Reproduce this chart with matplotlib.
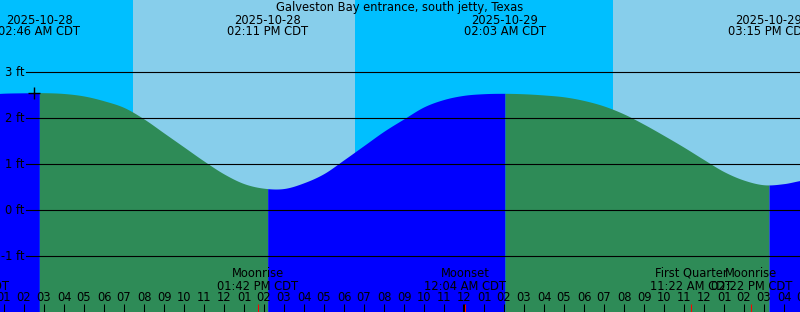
import numpy as np
import matplotlib
matplotlib.use("Agg")
import matplotlib.pyplot as plt
from matplotlib.transforms import blended_transform_factory

# ---------------- data (time in hours from 2025-10-28 00:00 CDT) ----------------
title = "Galveston Bay entrance, south jetty, Texas"

curve_hours = list(range(0, 42))
curve_levels = [2.52, 2.546, 2.554, 2.557, 2.539, 2.485, 2.38, 2.235, 1.985, 1.68,
                1.375, 1.07, 0.79, 0.58, 0.48, 0.474, 0.60, 0.80, 1.10, 1.41,
                1.72, 1.99, 2.25, 2.41, 2.50, 2.535, 2.543, 2.533, 2.507, 2.467,
                2.387, 2.267, 2.093, 1.87, 1.625, 1.37, 1.10, 0.84, 0.655, 0.555,
                0.58, 0.659]

tide_times = [2.767, 14.183, 26.05, 39.25]
tide_dates = ["2025-10-28", "2025-10-28", "2025-10-29", "2025-10-29"]
tide_clock = ["02:46 AM CDT", "02:11 PM CDT", "02:03 AM CDT", "03:15 PM CDT"]

day_starts = [7.45, 31.45]
day_ends = [18.55, 45.0]

moon_times = [-0.767, 13.7, 24.067, 35.367, 38.367]
moon_names = ["Moonset", "Moonrise", "Moonset", "First Quarter", "Moonrise"]
moon_clock = ["11:14 PM CDT", "01:42 PM CDT", "12:04 AM CDT", "11:22 AM CDT", "02:22 PM CDT"]

grid_levels = [-1, 0, 1, 2, 3]
grid_labels = ["-1 ft", "0 ft", "1 ft", "2 ft", "3 ft"]

hour_ticks = list(range(0, 42))
hour_labels = ["12", "01", "02", "03", "04", "05", "06", "07", "08", "09", "10", "11",
               "12", "01", "02", "03", "04", "05", "06", "07", "08", "09", "10", "11",
               "12", "01", "02", "03", "04", "05", "06", "07", "08", "09", "10", "11",
               "12", "01", "02", "03", "04", "05"]
midnight_ticks = [0, 24]

marker_time = 2.515
marker_level = 2.557

# ---------------- styling ----------------
W, H = 800, 312
NIGHT = "#00BFFF"
DAY = "#87CEEB"
RISE = "#0000FF"
FALL = "#2E8B57"
FS = 8.3

fig = plt.figure(figsize=(W / 100, H / 100), dpi=100)
ax = fig.add_axes([0, 0, 1, 1])
x0, x1 = 0.8, 40.8
y_top = 210.3 / 46.0
y_bot = -(312 - 210.3) / 46.0
ax.set_xlim(x0, x1)
ax.set_ylim(y_bot, y_top)
ax.axis("off")
ax.axvspan(x0, x1, color=NIGHT, zorder=0, lw=0)
for s, e in zip(day_starts, day_ends):
    ax.axvspan(s, e, color=DAY, zorder=0.5, lw=0)

t_arr = np.array(curve_hours, dtype=float)
l_arr = np.array(curve_levels, dtype=float)


def smooth(ts):
    """Catmull-Rom rendering of the sampled curve at drawing positions ts."""
    out = np.empty_like(ts)
    n = len(t_arr)
    for k, t in enumerate(ts):
        i = int(np.clip(np.floor(t - t_arr[0]), 0, n - 2))
        p0 = l_arr[max(i - 1, 0)]
        p1 = l_arr[i]
        p2 = l_arr[i + 1]
        p3 = l_arr[min(i + 2, n - 1)]
        u = (t - t_arr[i]) / (t_arr[i + 1] - t_arr[i])
        out[k] = 0.5 * ((2 * p1) + (-p0 + p2) * u + (2 * p0 - 5 * p1 + 4 * p2 - p3) * u ** 2
                        + (-p0 + 3 * p1 - 3 * p2 + p3) * u ** 3)
    return out


bounds = [x0 - 0.5] + tide_times + [x1 + 0.5]
colors = [RISE, FALL, RISE, FALL, RISE]
for (a, b), c in zip(zip(bounds[:-1], bounds[1:]), colors):
    ts = np.linspace(a, b, 200)
    ax.fill_between(ts, y_bot - 1, smooth(ts), color=c, lw=0, zorder=1, antialiased=True)

trans = blended_transform_factory(ax.transData, ax.transAxes)


def yf(py):
    return 1 - py / H


for lv, lab in zip(grid_levels, grid_labels):
    ax.axhline(lv, xmin=26 / W, xmax=1, color="black", lw=0.8, zorder=2)
    fig.text(24.5 / W, 1 - (210.3 - 46 * lv) / H, lab, ha="right", va="center",
             fontsize=FS, color="black")

ax.plot([marker_time], [marker_level], marker="+", color="black", ms=9, mew=1.0, zorder=3)

fig.text(0.5, yf(7.5), title, ha="center", va="center", fontsize=FS)
for t, d, c in zip(tide_times, tide_dates, tide_clock):
    ax.text(t, yf(20), d, ha="center", va="center", fontsize=FS, transform=trans, clip_on=False)
    ax.text(t, yf(31.5), c, ha="center", va="center", fontsize=FS, transform=trans, clip_on=False)

for t, n, c in zip(moon_times, moon_names, moon_clock):
    ax.text(t, yf(273.5), n, ha="center", va="center", fontsize=FS, transform=trans, clip_on=False)
    ax.text(t, yf(286), c, ha="center", va="center", fontsize=FS, transform=trans, clip_on=False)

for t, lab in zip(hour_ticks, hour_labels):
    ax.text(t, yf(297.5), lab, ha="center", va="center", fontsize=FS, transform=trans, clip_on=False)
    w = 2.2 if t in midnight_ticks else 0.75
    ax.plot([t, t], [yf(304), yf(312)], color="black", lw=w, transform=trans,
            zorder=3, solid_capstyle="butt")

for t in moon_times:
    ax.plot([t, t], [yf(304), yf(312)], color="red", lw=0.75, transform=trans, zorder=4,
            solid_capstyle="butt")

fig.savefig("out.png", dpi=100)
